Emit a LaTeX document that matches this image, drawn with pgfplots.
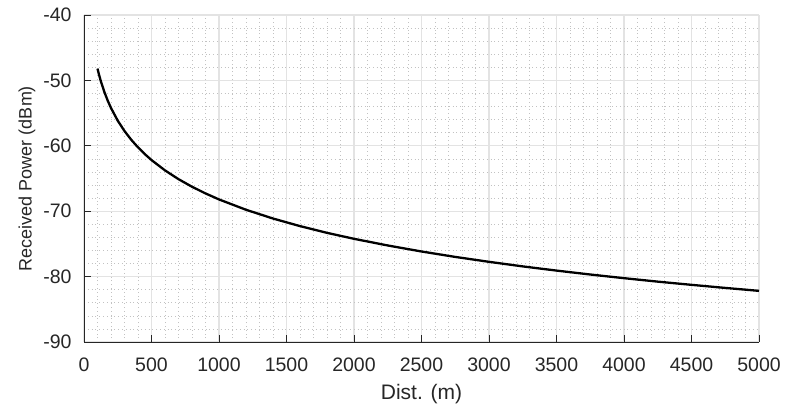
\documentclass[border=0pt]{standalone}
\usepackage{pgfplots}
\pgfplotsset{compat=1.18}
\usepackage{fontspec}
\setmainfont{Liberation Sans}
\definecolor{axgray}{RGB}{38,38,38}
\begin{document}
\begin{tikzpicture}
\begin{axis}[
 at={(84pt,65pt)}, anchor=south west,
 scale only axis, width=675pt, height=327pt,
 xmin=0,xmax=5000,ymin=-90,ymax=-40,
 xtick={0,500,...,5000}, ytick={-90,-80,...,-40},
 minor x tick num=4, minor y tick num=4,
 axis x line*=bottom, axis y line*=left,
 grid=both,
 major grid style={color=black!11, line width=1.1pt},
 minor grid style={color=black!24, dash pattern=on 0.8pt off 3pt, line width=0.6pt},
 tick align=inside, major tick length=7pt, minor tick length=0pt,
 tick style={color=axgray, line width=0.8pt},
 axis line style={color=axgray, line width=0.8pt, -},
 ticklabel style={font=\fontsize{19.5}{19.5}\selectfont, color=axgray},
 xticklabel style={yshift=-12pt},
 yticklabel style={xshift=-9pt},
 /pgf/number format/assume math mode=true,
 scaled x ticks=false, xticklabel style={/pgf/number format/1000 sep={}},
 xlabel={Dist. (m)}, ylabel={Received Power (dBm)},
 xlabel style={font=\fontsize{21}{21}\selectfont, color=axgray, at={(axis description cs:0.5,0)}, anchor=center, yshift=-52.5pt},
 ylabel style={font=\fontsize{18}{18}\selectfont, color=axgray, at={(axis description cs:-0.0844,0.5)}, anchor=center},
]
\addplot[black, line width=2.3pt] coordinates {
(100,-48.20) (110,-49.03) (125,-50.14) (150,-51.72) (175,-53.06) (200,-54.22)
(250,-56.16) (300,-57.74) (350,-59.08) (400,-60.24) (450,-61.26) (500,-62.18)
(600,-63.76) (700,-65.10) (800,-66.26) (900,-67.28) (1000,-68.20)
(1200,-69.78) (1400,-71.12) (1600,-72.28) (1800,-73.31) (2000,-74.22)
(2250,-75.24) (2500,-76.16) (2750,-76.99) (3000,-77.74) (3250,-78.44)
(3500,-79.08) (3750,-79.68) (4000,-80.24) (4250,-80.77) (4500,-81.26)
(4750,-81.73) (5000,-82.18)
};
\end{axis}
\pgfresetboundingbox
\useasboundingbox (0,0) rectangle (786pt,407pt);
\end{tikzpicture}
\end{document}
